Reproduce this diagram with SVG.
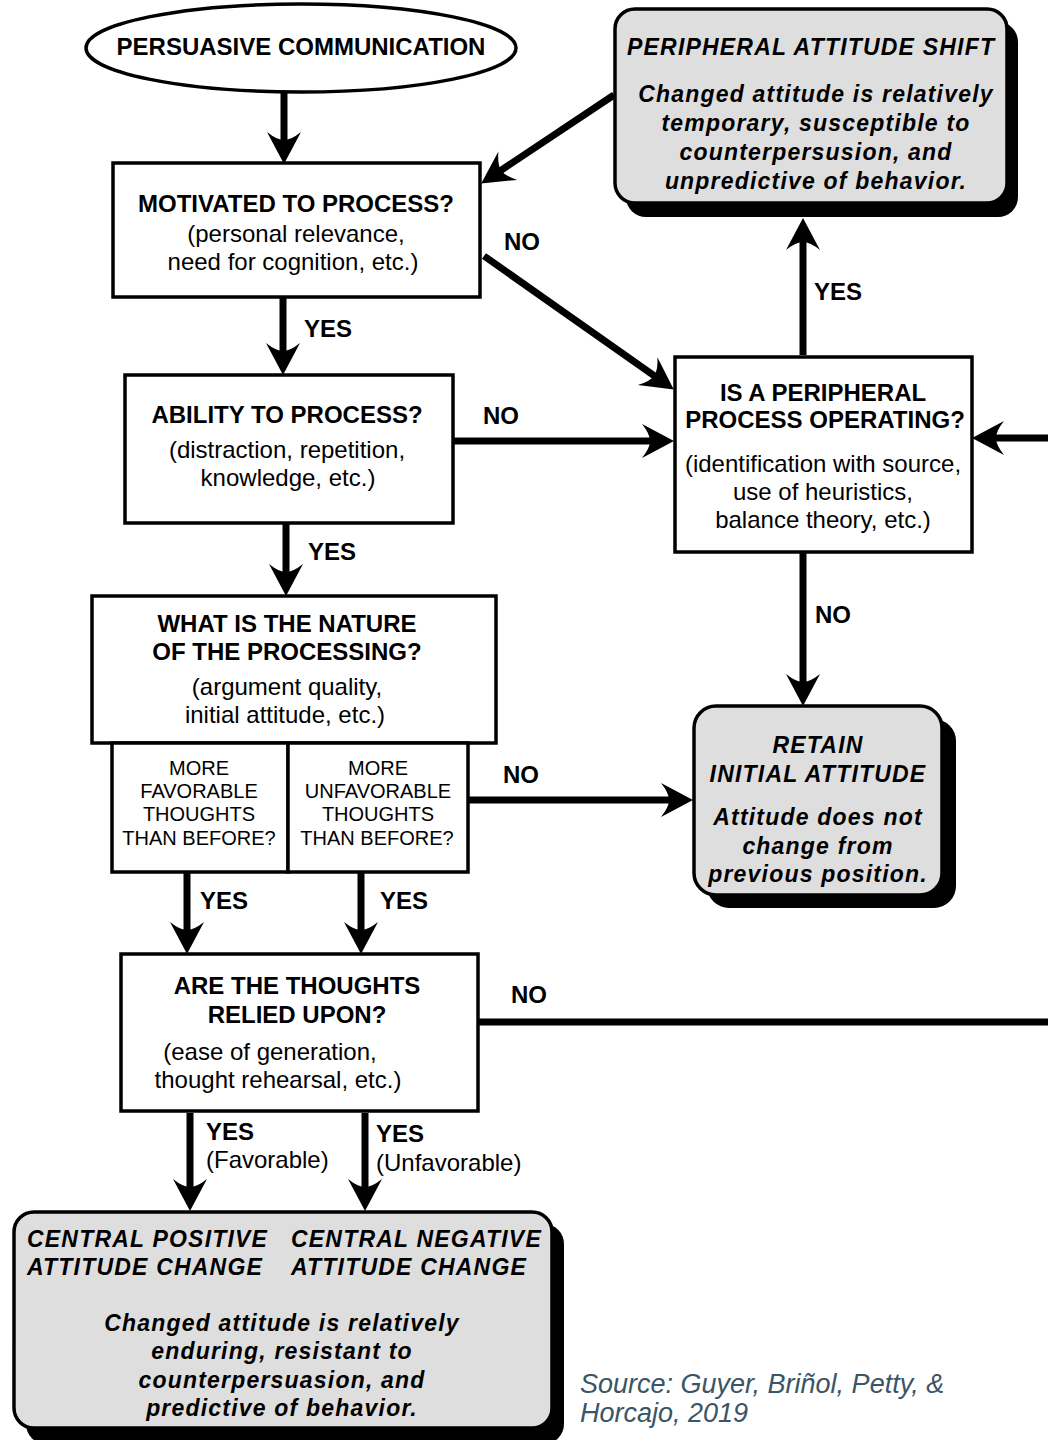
<svg xmlns="http://www.w3.org/2000/svg" width="1048" height="1440" viewBox="0 0 1048 1440">
  <style>
    .box { fill: #ffffff; stroke: #000000; stroke-width: 3.5; }
    .outcome { fill: #dedede; stroke: #000000; stroke-width: 3.5; }
    .shadow { fill: #000000; }
    .wire { fill: none; stroke: #000000; stroke-width: 7; stroke-linecap: butt; }
    .arrow { marker-end: url(#head); }
    text { font-family: "Liberation Sans", Arial, sans-serif; fill: #000000; }
    .q { font-size: 24px; font-weight: bold; text-anchor: middle; }
    .sub { font-size: 24px; text-anchor: middle; }
    .small { font-size: 20px; text-anchor: middle; }
    .lbl { font-size: 24px; font-weight: bold; }
    .lblr { font-size: 24px; }
    .res { font-size: 23px; font-weight: bold; font-style: italic; letter-spacing: 1.2px; }
    .mid { text-anchor: middle; }
    .src { font-size: 27px; font-style: italic; fill: #3a5566; }
  </style>
  <defs>
    <!-- barbed arrowhead; origin sits where the shaft meets the head -->
    <marker id="head" markerUnits="userSpaceOnUse" markerWidth="48" markerHeight="48" viewBox="-14 -24 48 48" refX="0" refY="0" orient="auto" overflow="visible">
      <path d="M22,0 L-10,-17 Q-2,-7 -2,0 Q-2,7 -10,17 Z" fill="#000000"/>
    </marker>
  </defs>

  <rect width="1048" height="1440" fill="#ffffff"/>

  <!-- connectors -->
  <g id="connectors">
    <line class="wire arrow" x1="284" y1="92" x2="284" y2="142"/>
    <line class="wire arrow" x1="283" y1="297" x2="283" y2="353"/>
    <line class="wire arrow" x1="286" y1="524" x2="286" y2="574"/>
    <line class="wire arrow" x1="484" y1="256" x2="655.8" y2="376.9"/>
    <line class="wire arrow" x1="454" y1="441" x2="652" y2="441"/>
    <line class="wire arrow" x1="1052" y1="438" x2="994" y2="438"/>
    <line class="wire arrow" x1="803" y1="355" x2="803" y2="240"/>
    <line class="wire arrow" x1="614" y1="95" x2="499.5" y2="171.3"/>
    <line class="wire arrow" x1="803" y1="553" x2="803" y2="684"/>
    <line class="wire arrow" x1="469" y1="800" x2="671" y2="800"/>
    <line class="wire arrow" x1="187" y1="873" x2="187" y2="932"/>
    <line class="wire arrow" x1="361" y1="873" x2="361" y2="932"/>
    <line class="wire" x1="479" y1="1022" x2="1052" y2="1022"/>
    <line class="wire arrow" x1="190" y1="1113" x2="190" y2="1189"/>
    <line class="wire arrow" x1="365" y1="1113" x2="365" y2="1189"/>

    <text class="lbl" x="504" y="250">NO</text>
    <text class="lbl" x="304" y="337">YES</text>
    <text class="lbl" x="483" y="424">NO</text>
    <text class="lbl" x="308" y="560">YES</text>
    <text class="lbl" x="814" y="300">YES</text>
    <text class="lbl" x="815" y="623">NO</text>
    <text class="lbl" x="503" y="783">NO</text>
    <text class="lbl" x="200" y="909">YES</text>
    <text class="lbl" x="380" y="909">YES</text>
    <text class="lbl" x="511" y="1003">NO</text>
    <text class="lbl" x="206" y="1140">YES</text>
    <text class="lblr" x="206" y="1168">(Favorable)</text>
    <text class="lbl" x="376" y="1142">YES</text>
    <text class="lblr" x="376" y="1171">(Unfavorable)</text>
  </g>

  <!-- start -->
  <g id="persuasive-communication">
    <ellipse class="box" cx="301" cy="48" rx="215" ry="44"/>
    <text class="q" x="301" y="55">PERSUASIVE COMMUNICATION</text>
  </g>

  <!-- motivation -->
  <g id="motivated">
    <rect class="box" x="113" y="163" width="367" height="134"/>
    <text class="q" x="296" y="212">MOTIVATED TO PROCESS?</text>
    <text class="sub" x="296" y="242">(personal relevance,</text>
    <text class="sub" x="293" y="270">need for cognition, etc.)</text>
  </g>

  <!-- ability -->
  <g id="ability">
    <rect class="box" x="125" y="375" width="328" height="148"/>
    <text class="q" x="287" y="423">ABILITY TO PROCESS?</text>
    <text class="sub" x="287" y="458">(distraction, repetition,</text>
    <text class="sub" x="288" y="486">knowledge, etc.)</text>
  </g>

  <!-- nature of processing -->
  <g id="nature">
    <rect class="box" x="92" y="596" width="404" height="147"/>
    <text class="q" x="287" y="632">WHAT IS THE NATURE</text>
    <text class="q" x="287" y="660">OF THE PROCESSING?</text>
    <text class="sub" x="287" y="695">(argument quality,</text>
    <text class="sub" x="285" y="723">initial attitude, etc.)</text>
  </g>

  <g id="more-favorable">
    <rect class="box" x="112" y="743" width="176" height="129"/>
    <text class="small" x="199" y="775">MORE</text>
    <text class="small" x="199" y="798">FAVORABLE</text>
    <text class="small" x="199" y="821">THOUGHTS</text>
    <text class="small" x="199" y="845">THAN BEFORE?</text>
  </g>

  <g id="more-unfavorable">
    <rect class="box" x="288" y="743" width="180" height="129"/>
    <text class="small" x="378" y="775">MORE</text>
    <text class="small" x="378" y="798">UNFAVORABLE</text>
    <text class="small" x="378" y="821">THOUGHTS</text>
    <text class="small" x="377" y="845">THAN BEFORE?</text>
  </g>

  <!-- reliance -->
  <g id="relied-upon">
    <rect class="box" x="121" y="954" width="357" height="157"/>
    <text class="q" x="297" y="994">ARE THE THOUGHTS</text>
    <text class="q" x="297" y="1023">RELIED UPON?</text>
    <text class="sub" x="270" y="1060">(ease of generation,</text>
    <text class="sub" x="278" y="1088">thought rehearsal, etc.)</text>
  </g>

  <!-- peripheral route -->
  <g id="peripheral-process">
    <rect class="box" x="675" y="357" width="297" height="195"/>
    <text class="q" x="823" y="401">IS A PERIPHERAL</text>
    <text class="q" x="825" y="428">PROCESS OPERATING?</text>
    <text class="sub" x="823" y="472">(identification with source,</text>
    <text class="sub" x="823" y="500">use of heuristics,</text>
    <text class="sub" x="823" y="528">balance theory, etc.)</text>
  </g>

  <g id="peripheral-shift">
    <rect class="shadow" x="626" y="22" width="392" height="195" rx="20"/>
    <rect class="outcome" x="615" y="9" width="392" height="194" rx="20"/>
    <text class="res" x="627" y="55">PERIPHERAL ATTITUDE SHIFT</text>
    <text class="res mid" x="816" y="102">Changed attitude is relatively</text>
    <text class="res mid" x="816" y="131">temporary, susceptible to</text>
    <text class="res mid" x="816" y="160">counterpersusion, and</text>
    <text class="res mid" x="816" y="189">unpredictive of behavior.</text>
  </g>

  <g id="retain">
    <rect class="shadow" x="707" y="719" width="249" height="189" rx="22"/>
    <rect class="outcome" x="694" y="706" width="248" height="189" rx="22"/>
    <text class="res mid" x="818" y="753">RETAIN</text>
    <text class="res mid" x="818" y="782">INITIAL ATTITUDE</text>
    <text class="res mid" x="818" y="825">Attitude does not</text>
    <text class="res mid" x="818" y="854">change from</text>
    <text class="res mid" x="818" y="882">previous position.</text>
  </g>

  <!-- central route outcome -->
  <g id="central-change">
    <rect class="shadow" x="26" y="1224" width="538" height="220" rx="20"/>
    <rect class="outcome" x="14" y="1212" width="538" height="216" rx="20"/>
    <text class="res" x="27" y="1247">CENTRAL POSITIVE</text>
    <text class="res" x="27" y="1275">ATTITUDE CHANGE</text>
    <text class="res" x="291" y="1247">CENTRAL NEGATIVE</text>
    <text class="res" x="291" y="1275">ATTITUDE CHANGE</text>
    <text class="res mid" x="282" y="1331">Changed attitude is relatively</text>
    <text class="res mid" x="282" y="1359">enduring, resistant to</text>
    <text class="res mid" x="282" y="1388">counterpersuasion, and</text>
    <text class="res mid" x="282" y="1416">predictive of behavior.</text>
  </g>

  <g id="source">
    <text class="src" x="580" y="1393">Source: Guyer, Briñol, Petty, &amp;</text>
    <text class="src" x="580" y="1422">Horcajo, 2019</text>
  </g>
</svg>
